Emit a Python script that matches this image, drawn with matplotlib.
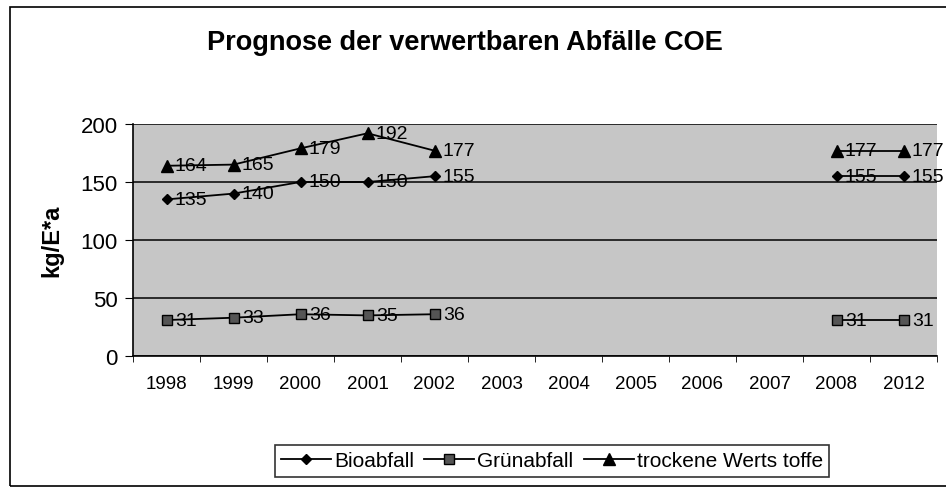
import numpy as np
import matplotlib
matplotlib.use("Agg")
import matplotlib.pyplot as plt
from matplotlib.patches import Rectangle

# chart data (nan = no value for that year)
years = ['1998', '1999', '2000', '2001', '2002', '2003', '2004', '2005',
         '2006', '2007', '2008', '2012']
nan = np.nan
bioabfall = [135, 140, 150, 150, 155, nan, nan, nan, nan, nan, 155, 155]
gruenabfall = [31, 33, 36, 35, 36, nan, nan, nan, nan, nan, 31, 31]
wertstoffe = [164, 165, 179, 192, 177, nan, nan, nan, nan, nan, 177, 177]

plt.rcParams['font.family'] = ['Liberation Sans', 'DejaVu Sans']

fig = plt.figure(figsize=(9.46, 4.89), dpi=100)
fig.patch.set_facecolor('white')

# outer chart frame
fig.patches.append(Rectangle((10 / 946, 2 / 489), 1.2, 479 / 489,
                             transform=fig.transFigure, fill=False,
                             edgecolor='black', linewidth=1.2))

ax = fig.add_axes([133 / 946, 1 - 357 / 489, 804 / 946, 232 / 489])
ax.set_facecolor('#c6c6c6')
x = np.arange(len(years))


def draw_series(vals, marker, ms, mfc, label):
    vals = np.array(vals, dtype=float)
    line, = ax.plot(x[:5], vals[:5], color='black', lw=1.3, marker=marker,
                    ms=ms, mfc=mfc, mec='black', label=label, zorder=3)
    ax.plot(x[10:], vals[10:], color='black', lw=1.3, marker=marker,
            ms=ms, mfc=mfc, mec='black', zorder=3)
    for xi, v in zip(x, vals):
        if not np.isnan(v):
            ax.annotate(f'{v:.0f}', (xi, v), xytext=(6, 0),
                        textcoords='offset points', va='center', ha='left',
                        fontsize=14, zorder=4, annotation_clip=False)
    return line


draw_series(bioabfall, 'D', 5, 'black', 'Bioabfall')
draw_series(gruenabfall, 's', 7, '#555555', 'Grünabfall')
draw_series(wertstoffe, '^', 8, 'black', 'trockene Werts toffe')

ax.set_ylim(0, 200)
ax.set_yticks([0, 50, 100, 150, 200])
ax.set_xlim(-0.5, len(years) - 0.5)
ax.set_xticks(x)
ax.set_xticklabels(years, fontsize=13.5)
ax.set_xticks(np.arange(-0.5, len(years)), minor=True)
ax.tick_params(axis='x', which='major', length=0, pad=14)
ax.tick_params(axis='x', which='minor', length=4, direction='out')
ax.tick_params(axis='y', labelsize=16, length=6, pad=5)
ax.grid(axis='y', color='black', lw=1.1)
ax.set_axisbelow(True)
for side in ['top', 'right']:
    ax.spines[side].set_visible(False)
ax.spines['left'].set_linewidth(1.2)
ax.spines['bottom'].set_linewidth(1.2)

ax.set_ylabel('kg/E*a', fontsize=17, fontweight='bold', labelpad=12)

fig.text(465 / 946, 1 - 43 / 489, 'Prognose der verwertbaren Abfälle COE',
         ha='center', va='center', fontsize=19.5, fontweight='bold')

leg = fig.legend(loc='center', bbox_to_anchor=(552 / 946, 1 - 462 / 489),
                 ncol=3, frameon=True, fancybox=False, edgecolor='black',
                 fontsize=15, handlelength=2.4, columnspacing=0.5,
                 handletextpad=0.15, borderpad=0.3)
leg.get_frame().set_linewidth(1.2)

fig.savefig('out.png', dpi=100)
